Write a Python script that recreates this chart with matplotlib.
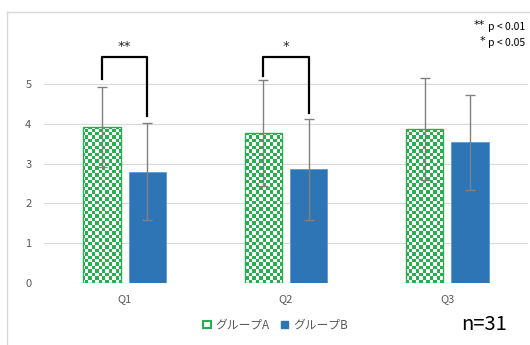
import numpy as np
import matplotlib
matplotlib.use("Agg")
import matplotlib.pyplot as plt
from matplotlib.colors import ListedColormap
from matplotlib.patches import Patch
from matplotlib.lines import Line2D

plt.rcParams['font.family'] = ['Noto Sans CJK JP', 'DejaVu Sans']

#data
questions = ['Q1', 'Q2', 'Q3']
mean_a = [3.92, 3.77, 3.87]
sd_a = [1.01, 1.33, 1.28]
mean_b = [2.79, 2.85, 3.53]
sd_b = [1.22, 1.26, 1.20]
sig = ['**', '*', '']
n_label = 'n=31'
group_names = ['グループA', 'グループB']

green = '#27ae4f'
blue = '#2e75b6'
grey_txt = '#595959'

fig = plt.figure(figsize=(5.30, 3.45), dpi=100)
ax = fig.add_axes([44/530, 62/345, 484/530, 239/345])

x = np.arange(len(questions))
off = 0.141
w = 0.232

#group A: checkerboard fill clipped to the bar outline
bars_a = ax.bar(x - off, mean_a, w, facecolor='none', edgecolor=green, lw=1.0, zorder=3)
nx, ny = int(484/3.4), int(239/3.4)
board = np.add.outer(np.arange(ny), np.arange(nx)) % 2
cmap = ListedColormap(['white', green])
for b in bars_a:
    im = ax.imshow(board, extent=(-0.5, 2.5, 0, 6), aspect='auto', cmap=cmap,
                   interpolation='nearest', zorder=2)
    im.set_clip_path(b)

bars_b = ax.bar(x + off, mean_b, w, facecolor=blue, edgecolor='#5b9bd5', lw=0.6, zorder=3)

ax.errorbar(x - off, mean_a, yerr=sd_a, fmt='none', ecolor='#808080',
            elinewidth=1.0, capsize=3.5, capthick=1.0, zorder=4)
ax.errorbar(x + off, mean_b, yerr=sd_b, fmt='none', ecolor='#808080',
            elinewidth=1.0, capsize=3.5, capthick=1.0, zorder=4)

#significance brackets
for i, s in enumerate(sig):
    if not s:
        continue
    left_bottom = mean_a[i] + sd_a[i] + 0.2 if i == 0 else 5.2
    right_bottom = mean_b[i] + sd_b[i] + 0.17
    ax.plot([i - off, i - off, i + off, i + off],
            [left_bottom, 5.68, 5.68, right_bottom],
            color='black', lw=1.6, clip_on=False, zorder=5)
    ax.text(i, 5.93, s, ha='center', va='center', fontsize=9.5, color='#222222',
            family='DejaVu Sans')

ax.set_xlim(-0.5, 2.5)
ax.set_ylim(0, 6)
ax.set_yticks(range(6))
ax.set_xticks(x)
ax.set_xticklabels(questions)
ax.tick_params(length=0, colors=grey_txt, labelsize=8)
ax.tick_params(axis='x', pad=8)
ax.tick_params(axis='y', pad=9)
ax.grid(axis='y', color='#d9d9d9', lw=0.8)
ax.set_axisbelow(True)
for sp in ax.spines.values():
    sp.set_visible(False)

#chart frame
fig.add_artist(Line2D([7/530, 7/530], [0, 1 - 11.5/345], color='#d9d9d9', lw=1.0))
fig.add_artist(Line2D([7/530, 1], [1 - 11.5/345, 1 - 11.5/345], color='#d9d9d9', lw=1.0))

#legend
handles = [Patch(facecolor='white', edgecolor=green, lw=1.5),
           Patch(facecolor=blue, edgecolor=blue)]
leg = fig.legend(handles, group_names, loc='center', bbox_to_anchor=(0.52, 1 - 325/345),
                 ncol=2, frameon=False, fontsize=8.5, handlelength=0.6, handleheight=0.6,
                 handletextpad=0.4, columnspacing=1.0)
for t in leg.get_texts():
    t.set_color(grey_txt)

fig.text(461/530, 1 - 325/345, n_label, fontsize=14.5, ha='left', va='center', color='black')

#p-value key
fig.text(485/530, 1 - 25/345, '**', fontsize=8, ha='right', va='center', family='DejaVu Sans')
fig.text(488/530, 1 - 27/345, 'p < 0.01', fontsize=7.5, ha='left', va='center')
fig.text(485/530, 1 - 41/345, '*', fontsize=8, ha='right', va='center', family='DejaVu Sans')
fig.text(488/530, 1 - 43/345, 'p < 0.05', fontsize=7.5, ha='left', va='center')

plt.savefig('out.png', dpi=100)
